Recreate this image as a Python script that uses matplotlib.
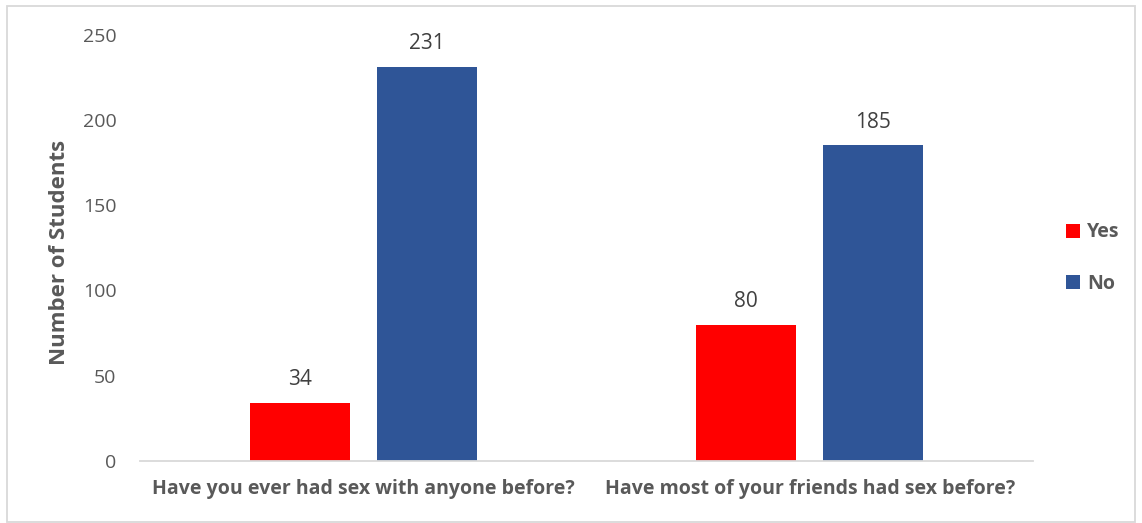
import matplotlib
matplotlib.use("Agg")
import matplotlib.pyplot as plt
from matplotlib.patches import Rectangle
import numpy as np

questions = ["Have you ever had sex with anyone before?",
             "Have most of your friends had sex before?"]
yes_counts = [34, 80]
no_counts = [231, 185]
series_names = ["Yes", "No"]
yticks = [0, 50, 100, 150, 200, 250]

plt.rcParams['font.family'] = ['Open Sans', 'DejaVu Sans']
txt_col = '#595959'

fig = plt.figure(figsize=(11.42, 5.23), dpi=100)
ax = fig.add_axes([140/1142, 1-461/523, 893/1142, (461-34.5)/523])

x = np.arange(len(questions))
w = 0.224
off = 0.1425
b_yes = ax.bar(x - off, yes_counts, w, color='#FF0000', label=series_names[0])
b_no = ax.bar(x + off, no_counts, w, color='#2F5597', label=series_names[1])

for bars in (b_yes, b_no):
    for r in bars:
        ax.annotate(f"{int(r.get_height())}", (r.get_x() + r.get_width()/2, r.get_height()),
                    xytext=(0, 9), textcoords='offset points', ha='center', va='bottom',
                    fontsize=15, color='#404040')

ax.set_xlim(-0.5, 1.5)
ax.set_ylim(0, 250)
ax.set_yticks(yticks)
ax.set_xticks(x)
ax.set_xticklabels(questions, fontsize=14, fontweight='bold', color=txt_col)
ax.tick_params(axis='y', length=0, pad=17, labelsize=14, labelcolor=txt_col)
ax.tick_params(axis='x', length=0, pad=13)
for s in ['top', 'right', 'left']:
    ax.spines[s].set_visible(False)
ax.spines['bottom'].set_color('#D9D9D9')
ax.spines['bottom'].set_linewidth(1.3)

ax.set_ylabel("Number of Students", fontsize=16, fontweight='bold', color=txt_col, labelpad=9)
ax.yaxis.label.set_y(0.488)

leg = ax.legend(loc='center left', bbox_to_anchor=(1.017, 0.476), frameon=False,
                handlelength=0.72, handleheight=0.72, labelspacing=1.6, handletextpad=0.4,
                prop={'size': 14, 'weight': 'bold'})
for t in leg.get_texts():
    t.set_color(txt_col)

fig.patches.append(Rectangle((7/1142, 1/523), 1128/1142, 516/523, transform=fig.transFigure,
                             fill=False, edgecolor='#D9D9D9', linewidth=1.3))

fig.savefig("out.png", dpi=100)
